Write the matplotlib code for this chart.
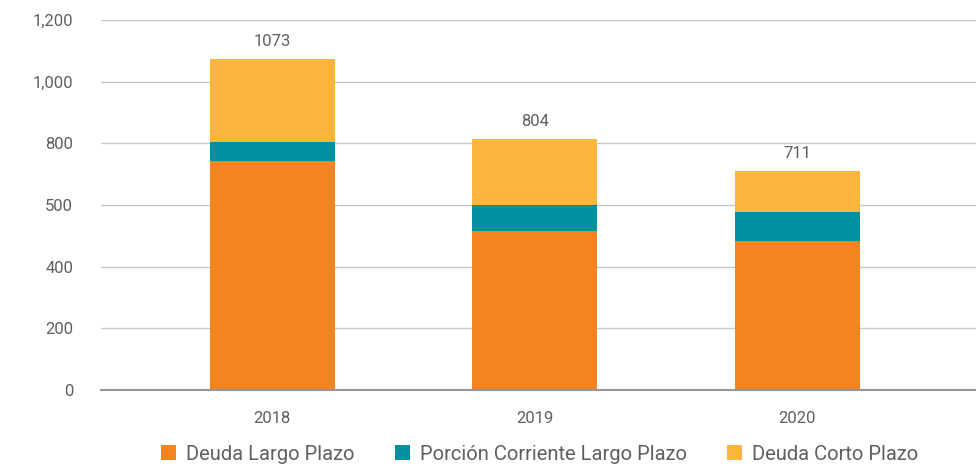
import matplotlib
matplotlib.use("Agg")
import matplotlib.pyplot as plt
import numpy as np

# datos
anios = ['2018', '2019', '2020']
deuda_largo = [743, 516, 483]
porcion_corriente = [61, 84, 94]
deuda_corto = [269, 214, 134]
totales = ['1073', '804', '711']
yticks = [0, 200, 400, 600, 800, 1000, 1200]
ytick_labels = ['0', '200', '400', '500', '800', '1,000', '1,200']

plt.rcParams['font.family'] = ['Roboto', 'DejaVu Sans']
gris = '#5f5f5f'

fig = plt.figure(figsize=(9.76, 4.7), dpi=100)
ax = fig.add_axes([0.1035, 0.1702, 0.8965, 0.7872])

x = np.arange(len(anios))
ancho = 0.476
b1 = np.array(deuda_largo)
b2 = b1 + np.array(porcion_corriente)
ax.bar(x, deuda_largo, ancho, color='#F38422', label='Deuda Largo Plazo', zorder=3)
ax.bar(x, porcion_corriente, ancho, bottom=b1, color='#0090A0', label='Porción Corriente Largo Plazo', zorder=3)
ax.bar(x, deuda_corto, ancho, bottom=b2, color='#FBB43C', label='Deuda Corto Plazo', zorder=3)

tops = b2 + np.array(deuda_corto)
for xi, t, lab in zip(x, tops, totales):
    ax.annotate(lab, (xi, t), xytext=(0, 7), textcoords='offset points',
                ha='center', va='bottom', fontsize=12, color=gris)

ax.set_xlim(-0.651, 2.68)
ax.set_ylim(0, 1200)
ax.set_yticks(yticks)
ax.set_yticklabels(ytick_labels)
ax.set_xticks(x)
ax.set_xticklabels(anios)
ax.tick_params(axis='y', length=0, pad=20, labelsize=12, labelcolor=gris)
ax.tick_params(axis='x', length=0, pad=15, labelsize=12, labelcolor=gris)
ax.grid(axis='y', color='#c8c8c8', linewidth=1, zorder=0)
for s in ['top', 'right', 'left']:
    ax.spines[s].set_visible(False)
ax.spines['bottom'].set_color('#9a9590')
ax.spines['bottom'].set_linewidth(1.5)
ax.spines['bottom'].set_zorder(4)

leg = fig.legend(loc='lower center', bbox_to_anchor=(0.553, -0.025), ncol=3, frameon=False,
                 fontsize=14.5, handlelength=0.75, handleheight=0.75, columnspacing=2.0,
                 handletextpad=0.5)
for t in leg.get_texts():
    t.set_color(gris)

fig.savefig('out.png', dpi=100)
